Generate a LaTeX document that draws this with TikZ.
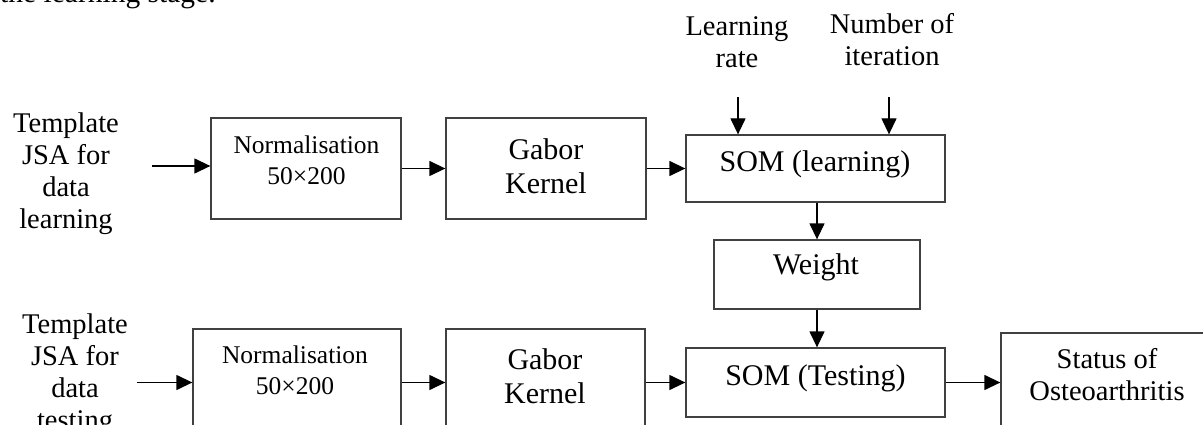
\documentclass[tikz,border=0pt]{standalone}
\usepackage{fontspec}
\setmainfont{Liberation Serif}
\usetikzlibrary{arrows.meta}
\begin{document}
\begin{tikzpicture}[x=1pt,y=-1pt,
  box/.style={draw=black!75, line width=1.3pt, inner sep=0pt},
  bigtxt/.style={font=\fontsize{30}{34}\selectfont, align=center, inner sep=0pt},
  lbltxt/.style={font=\fontsize{28.5}{32}\selectfont, align=center, inner sep=0pt},
  smltxt/.style={font=\fontsize{25.5}{31}\selectfont, align=center, inner sep=0pt},
  arr/.style={-{Triangle[length=16pt,width=15pt]}, line width=1.3pt}]
\useasboundingbox (0,0) rectangle (1203,425);
\clip (0,0) rectangle (1203,425);

% caption fragment at the top
\node[anchor=base west, inner sep=0pt, font=\fontsize{29.5}{34}\selectfont] (cap) at (0,3) {the learning stage.};

% boxes
\node[box, minimum width=190pt, minimum height=101pt] (n1) at (306,168.5) {};
\node[box, minimum width=200pt, minimum height=101pt] (g1) at (546,168.5) {};
\node[box, minimum width=259pt, minimum height=67pt] (s1) at (815.5,168.5) {};
\node[box, minimum width=206pt, minimum height=69pt] (w) at (817,274.5) {};
\node[box, minimum width=259pt, minimum height=69pt] (s2) at (815.5,382.5) {};
\node[box, minimum width=208pt, minimum height=116pt] (n2) at (297,387) {};
\node[box, minimum width=199pt, minimum height=116pt] (g2) at (545.5,387) {};
\node[box, minimum width=214pt, minimum height=112pt] (st) at (1108,389) {};

% texts
\node[lbltxt] (t1) at (66,173.5) {Template\\JSA for\\data\\learning};
\node[lbltxt] (t2) at (75,375) {Template\\JSA for\\data\\testing};
\node[lbltxt] (lr) at (737,42.5) {Learning\\rate};
\node[lbltxt] (ni) at (892,40) {Number of\\iteration};
\node[smltxt] (n1t) at (306.5,160) {Normalisation\\50×200};
\node[smltxt] (n2t) at (295,370.5) {Normalisation\\50×200};
\node[bigtxt] (g1t) at (546,166) {Gabor\\Kernel};
\node[bigtxt] (g2t) at (545,376.5) {Gabor\\Kernel};
\node[bigtxt] (s1t) at (815,164) {SOM (learning)};
\node[bigtxt] (wt) at (816,267) {Weight};
\node[bigtxt] (s2t) at (815.5,378) {SOM (Testing)};
\node[lbltxt] (stt) at (1107,374.5) {Status of\\Osteoarthritis};

% connectors
\coordinate (a1) at (152,166);
\draw[arr] (a1) -- (a1 -| n1.west);
\draw[arr] (n1.east) -- (g1.west);
\draw[arr] (g1.east) -- (s1.west);
\coordinate (lra) at (738,97);
\draw[arr] (lra) -- (lra |- s1.north);
\coordinate (nia) at (889,97);
\draw[arr] (nia) -- (nia |- s1.north);
\draw[arr] (w.north |- s1.south) -- (w.north);
\draw[arr] (w.south) -- (w.south |- s2.north);
\coordinate (a2) at (137,382.5);
\draw[arr] (a2) -- (a2 -| n2.west);
\draw[arr] (n2.east |- s2.west) -- (g2.west |- s2.west);
\draw[arr] (g2.east |- s2.west) -- (s2.west);
\draw[arr] (s2.east) -- (s2.east -| st.west);
\end{tikzpicture}
\end{document}
